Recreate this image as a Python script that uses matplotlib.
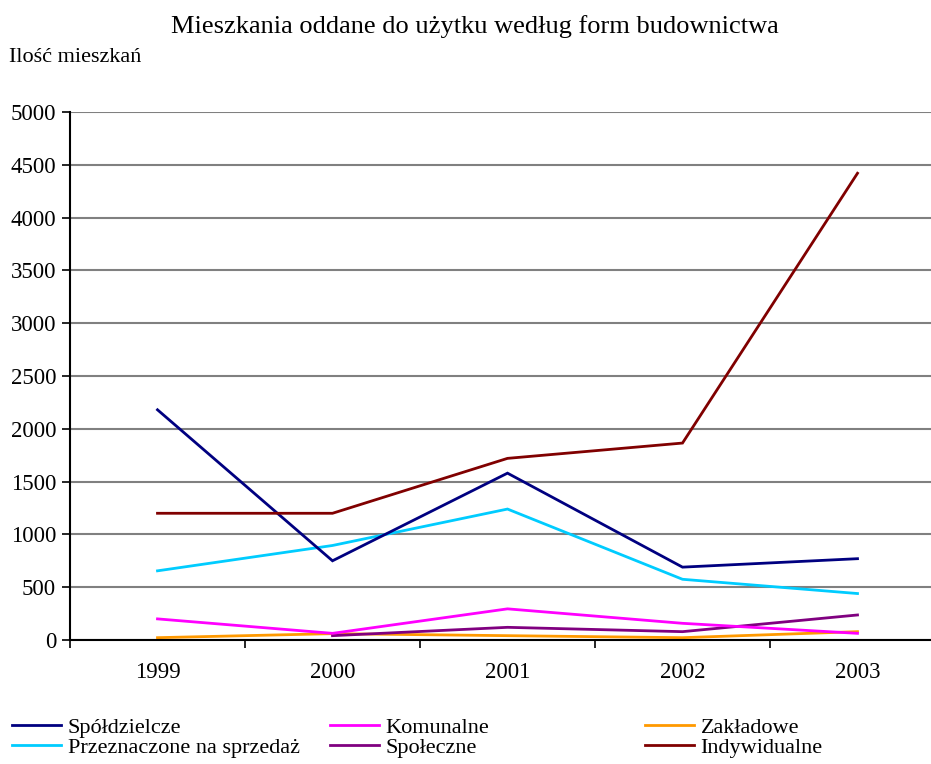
import matplotlib
matplotlib.use("Agg")
import matplotlib.pyplot as plt
from matplotlib.lines import Line2D
import numpy as np

years = ["1999", "2000", "2001", "2002", "2003"]
spoldzielcze = [2180, 750, 1580, 690, 770]
komunalne = [200, 63, 295, 158, 63]
zakladowe = [22, 60, 41, 22, 79]
przeznaczone = [655, 895, 1240, 575, 440]
spoleczne = [np.nan, 41, 120, 79, 237]
indywidualne = [1200, 1200, 1720, 1865, 4420]

series = [
    ("Spółdzielcze", spoldzielcze, "#000080"),
    ("Przeznaczone na sprzedaż", przeznaczone, "#00CCFF"),
    ("Komunalne", komunalne, "#FF00FF"),
    ("Społeczne", spoleczne, "#800080"),
    ("Zakładowe", zakladowe, "#FF9900"),
    ("Indywidualne", indywidualne, "#800000"),
]

plt.rcParams["font.family"] = ["Liberation Serif", "DejaVu Serif"]

W, H = 931, 764
fig = plt.figure(figsize=(W / 100, H / 100), dpi=100)
ax = fig.add_axes([70 / W, 124 / H, 875 / W, 528 / H])

x = np.arange(len(years))
# draw back to front so the main series sit on top
draw_order = [4, 3, 2, 1, 0, 5]
for i in draw_order:
    name, vals, col = series[i]
    ax.plot(x, vals, color=col, lw=2, solid_joinstyle="miter", zorder=3)

ax.set_xlim(-0.5, len(years) - 0.5)
ax.set_ylim(0, 5000)
ax.set_yticks(np.arange(0, 5001, 500))
ax.set_yticklabels([str(v) for v in range(0, 5001, 500)], fontsize=16.5)
ax.set_xticks(x)
ax.set_xticklabels(years, fontsize=16.5)
ax.set_xticks(np.arange(-0.5, len(years), 1), minor=True)
ax.tick_params(axis="x", which="major", length=0, pad=16)
ax.tick_params(axis="x", which="minor", length=6, width=1.2, direction="out")
ax.tick_params(axis="y", length=6, width=1.2, direction="out", pad=4)
ax.grid(axis="y", color="#808080", lw=1.5, zorder=1)
ax.set_axisbelow(True)
for s in ("top", "right"):
    ax.spines[s].set_visible(False)
for s in ("left", "bottom"):
    ax.spines[s].set_color("black")
    ax.spines[s].set_linewidth(1.5)
    ax.spines[s].set_zorder(4)

fig.text(475 / W, 1 - 27 / H, "Mieszkania oddane do użytku według form budownictwa",
         ha="center", va="center", fontsize=19)
fig.text(9 / W, 1 - 58 / H, "Ilość mieszkań", ha="left", va="center", fontsize=16)

# legend in three columns of two entries each
col_x = [12, 330, 645]
for c in range(3):
    handles = []
    for name, vals, col in series[2 * c:2 * c + 2]:
        handles.append(Line2D([], [], color=col, lw=2, label=name))
    fig.legend(handles=handles, loc="upper left",
               bbox_to_anchor=(col_x[c] / W, 1 - 717 / H),
               frameon=False, fontsize=16, handlelength=2.2,
               handletextpad=0.3, labelspacing=0.0, borderpad=0,
               borderaxespad=0)

fig.savefig("out.png", dpi=100)
